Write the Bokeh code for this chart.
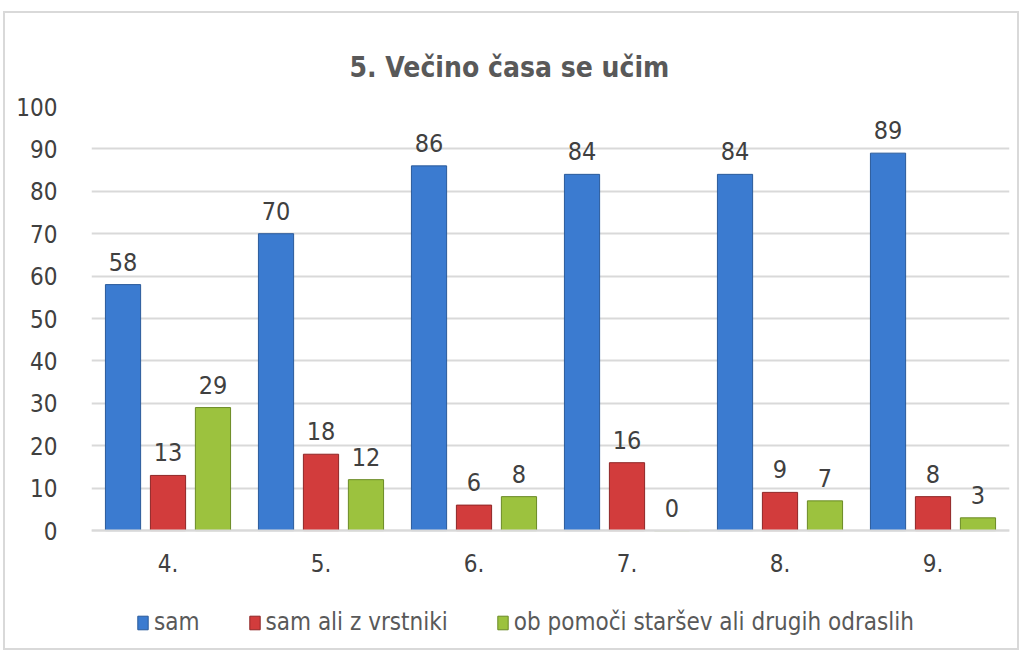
from bokeh.plotting import figure
from bokeh.models import ColumnDataSource, FactorRange, Legend, LegendItem, LabelSet, Title
from bokeh.core.properties import value
from bokeh.transform import dodge
from bokeh.embed import file_html
from bokeh.resources import INLINE

categories = ["4.", "5.", "6.", "7.", "8.", "9."]
sam = [58, 70, 86, 84, 84, 89]
sam_vrstniki = [13, 18, 6, 16, 9, 8]
pomoc = [29, 12, 8, 0, 7, 3]
series_names = ["sam", "sam ali z vrstniki", "ob pomoči staršev ali drugih odraslih"]
y_ticks = list(range(0, 101, 10))

FONT = "'DejaVu Sans Condensed', 'Liberation Sans', sans-serif"

src = ColumnDataSource(dict(cat=categories, a=sam, b=sam_vrstniki, c=pomoc,
                            la=[str(v) for v in sam], lb=[str(v) for v in sam_vrstniki],
                            lc=[str(v) for v in pomoc]))

# frame extends below zero so that category labels and legend sit inside it
p = figure(x_range=FactorRange(*categories, range_padding=0), y_range=(-26.4, 100),
           frame_width=918, frame_height=536, output_backend="svg", toolbar_location=None,
           min_border_left=86, min_border_right=8, min_border_bottom=6, min_border_top=93)
p.styles = {"border": "2px solid #d9d9d9", "margin-left": "3px", "margin-top": "11px"}
p.title = None
t = Title(text="5. Večino časa se učim", align="left", text_font=FONT,
          text_font_size="28px", text_color="#595959", text_font_style="bold",
          standoff=46, offset=258)
p.add_layout(t, "above")

p.outline_line_color = None
p.xgrid.grid_line_color = None
p.ygrid.grid_line_color = "#d9d9d9"
p.ygrid.grid_line_width = 2
p.yaxis.ticker = y_ticks
p.yaxis.axis_line_color = None
p.yaxis.major_tick_line_color = None
p.yaxis.minor_tick_line_color = None
p.yaxis.major_label_text_font = FONT
p.yaxis.major_label_text_font_size = "24px"
p.yaxis.major_label_text_color = "#404040"
p.yaxis.major_label_standoff = 28
p.xaxis.fixed_location = 0
p.xaxis.axis_line_color = "#d9d9d9"
p.xaxis.axis_line_width = 2
p.xaxis.major_tick_line_color = None
p.xaxis.minor_tick_line_color = None
p.xaxis.major_label_text_font = FONT
p.xaxis.major_label_text_font_size = "24px"
p.xaxis.major_label_text_color = "#404040"
p.xaxis.major_label_standoff = 17

off = 0.294
w = 0.23
specs = [("a", "la", -off, "#3b7bd0", "#2a5a9a"),
         ("b", "lb", 0.0, "#d23c3c", "#8f2626"),
         ("c", "lc", off, "#9cc23e", "#6a8a25")]
renderers = []
for col, lcol, dx, fc, lc in specs:
    r = p.vbar(x=dodge("cat", dx, range=p.x_range), top=col, width=w, source=src,
               fill_color=fc, line_color=lc, line_width=1)
    renderers.append(r)
    lbl = LabelSet(x=dodge("cat", dx, range=p.x_range), y=col, text=lcol, source=src,
                   text_align="center", text_baseline="bottom", y_offset=14,
                   text_font=value(FONT), text_font_size=value("25px"), text_color="#404040")
    p.add_layout(lbl)

legend = Legend(items=[LegendItem(label=n, renderers=[r]) for n, r in zip(series_names, renderers)],
                orientation="horizontal", location=(45, 6), border_line_color=None,
                label_text_font=FONT, label_text_font_size="24px", label_text_color="#595959",
                glyph_width=13, glyph_height=17, spacing=48, label_standoff=5, padding=6,
                margin=0, background_fill_alpha=0)
p.add_layout(legend, "center")

open("out.html", "w").write(file_html(p, INLINE))
